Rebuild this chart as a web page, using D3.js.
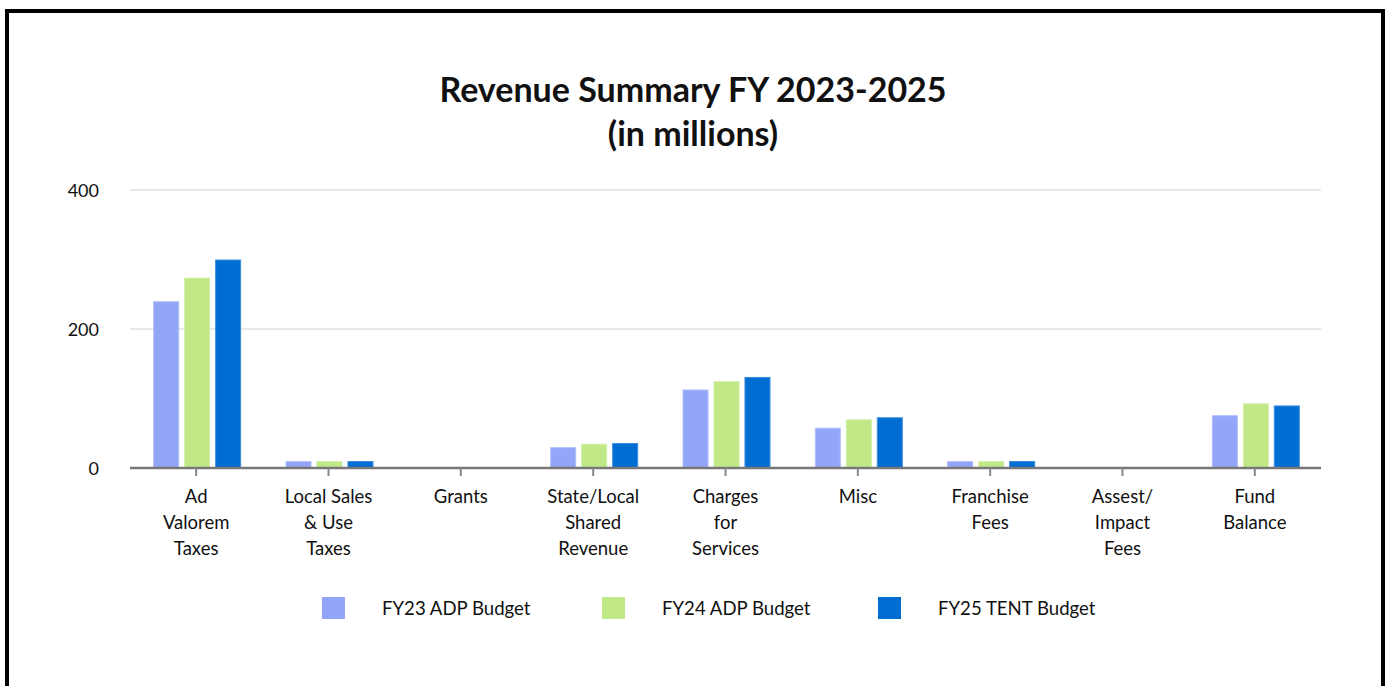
<!DOCTYPE html>
<html>
<head>
<meta charset="utf-8">
<script src="https://cdn.jsdelivr.net/npm/d3@7"></script>
<style>
  html, body { margin: 0; padding: 0; background: #fff; }
  svg { display: block; }
  text { font-family: Lato, "Open Sans", sans-serif; fill: #111; }
</style>
</head>
<body>
<svg id="chart" width="1389" height="686"></svg>
<script>
// Revenue by source, in millions of dollars
const categories = [
  "Ad Valorem Taxes", "Local Sales & Use Taxes", "Grants",
  "State/Local Shared Revenue", "Charges for Services", "Misc",
  "Franchise Fees", "Assest/ Impact Fees", "Fund Balance"
];
const categoryLines = [
  ["Ad", "Valorem", "Taxes"],
  ["Local Sales", "& Use", "Taxes"],
  ["Grants"],
  ["State/Local", "Shared", "Revenue"],
  ["Charges", "for", "Services"],
  ["Misc"],
  ["Franchise", "Fees"],
  ["Assest/", "Impact", "Fees"],
  ["Fund", "Balance"]
];
const seriesNames = ["FY23 ADP Budget", "FY24 ADP Budget", "FY25 TENT Budget"];
const fy23 = [240, 10, 0, 30, 113, 58, 10, 0, 76];
const fy24 = [274, 10, 0, 35, 125, 70, 10, 0, 93];
const fy25 = [300, 10, 0, 36, 131, 73, 10, 0, 90];
const yTicks = [0, 200, 400];
const colors = ["#93a5f8", "#c0e886", "#006dd2"];
const edgeColors = ["#b3c0fa", "#d3f0aa", "#3b8fe0"];

const seriesValues = [fy23, fy24, fy25];
const svg = d3.select("#chart");

// outer frame
svg.append("rect")
  .attr("x", 7).attr("y", 11).attr("width", 1376).attr("height", 720)
  .attr("fill", "#fff").attr("stroke", "#000").attr("stroke-width", 4);

// title
const title = svg.append("text")
  .attr("text-anchor", "middle")
  .style("font-weight", "700").style("font-size", "34px").attr("fill", "#000");
title.append("tspan").attr("x", 693).attr("y", 102).text("Revenue Summary FY 2023-2025");
title.append("tspan").attr("x", 693).attr("y", 146).text("(in millions)");

const x0 = d3.scaleBand().domain(categories).range([131, 1322])
  .paddingInner(0.335).paddingOuter(0.1675);
const x1 = d3.scaleBand().domain(seriesNames).range([0, x0.bandwidth()])
  .paddingInner(0.16);
const y = d3.scaleLinear().domain([0, 400]).range([468, 190]);

// horizontal gridlines
svg.append("g").selectAll("line").data(yTicks.filter(d => d > 0)).join("line")
  .attr("x1", 130).attr("x2", 1321)
  .attr("y1", d => y(d)).attr("y2", d => y(d))
  .attr("stroke", "#e8e8e8").attr("stroke-width", 2);

// y axis labels
const yAxis = d3.axisLeft(y).tickValues(yTicks).tickSize(0).tickPadding(0);
const yg = svg.append("g").attr("transform", "translate(99,0)").call(yAxis);
yg.select(".domain").remove();
yg.selectAll("text").style("font-size", "18px").attr("fill", "#111")
  .attr("dy", "0.36em");

// bars
const groups = svg.append("g").selectAll("g").data(categories).join("g")
  .attr("transform", d => `translate(${x0(d)},0)`);
groups.selectAll("rect")
  .data((d, i) => seriesNames.map((s, k) => ({ s, k, v: seriesValues[k][i] })))
  .join("rect")
  .filter(d => d.v > 0)
  .attr("x", d => x1(d.s) + 0.5)
  .attr("width", x1.bandwidth() - 1)
  .attr("y", d => y(d.v) + 0.5)
  .attr("height", d => y(0) - y(d.v) - 0.5)
  .attr("fill", d => colors[d.k])
  .attr("stroke", d => edgeColors[d.k])
  .attr("stroke-width", 1);

// x axis baseline and ticks
const xAxis = d3.axisBottom(x0).tickSize(8).tickSizeOuter(0).tickFormat("");
const xg = svg.append("g").attr("transform", `translate(-1,${y(0)})`).call(xAxis);
xg.select(".domain").attr("stroke", "#777").attr("stroke-width", 2.5)
  .attr("d", "M131,0H1322");
xg.selectAll(".tick line").attr("stroke", "#888").attr("stroke-width", 2);

// multi-line category labels
const lbl = svg.append("g").selectAll("text").data(categories).join("text")
  .attr("text-anchor", "middle").style("font-size", "18.5px").attr("fill", "#111");
lbl.each(function (d, i) {
  const t = d3.select(this);
  categoryLines[i].forEach((line, j) => {
    t.append("tspan")
      .attr("x", x0(d) + x0.bandwidth() / 2 - 1)
      .attr("y", 503 + j * 26)
      .text(line);
  });
});

// legend
const legendX = [322, 602, 878];
const lg = svg.append("g").selectAll("g").data(seriesNames).join("g")
  .attr("transform", (d, i) => `translate(${legendX[i]},597)`);
lg.append("rect").attr("width", 23).attr("height", 22)
  .attr("fill", (d, i) => colors[i]);
lg.append("text").attr("x", (d, i) => i === 2 ? 60 : 60).attr("y", 18)
  .style("font-size", "18.6px").attr("fill", "#111").text(d => d);
</script>
</body>
</html>
